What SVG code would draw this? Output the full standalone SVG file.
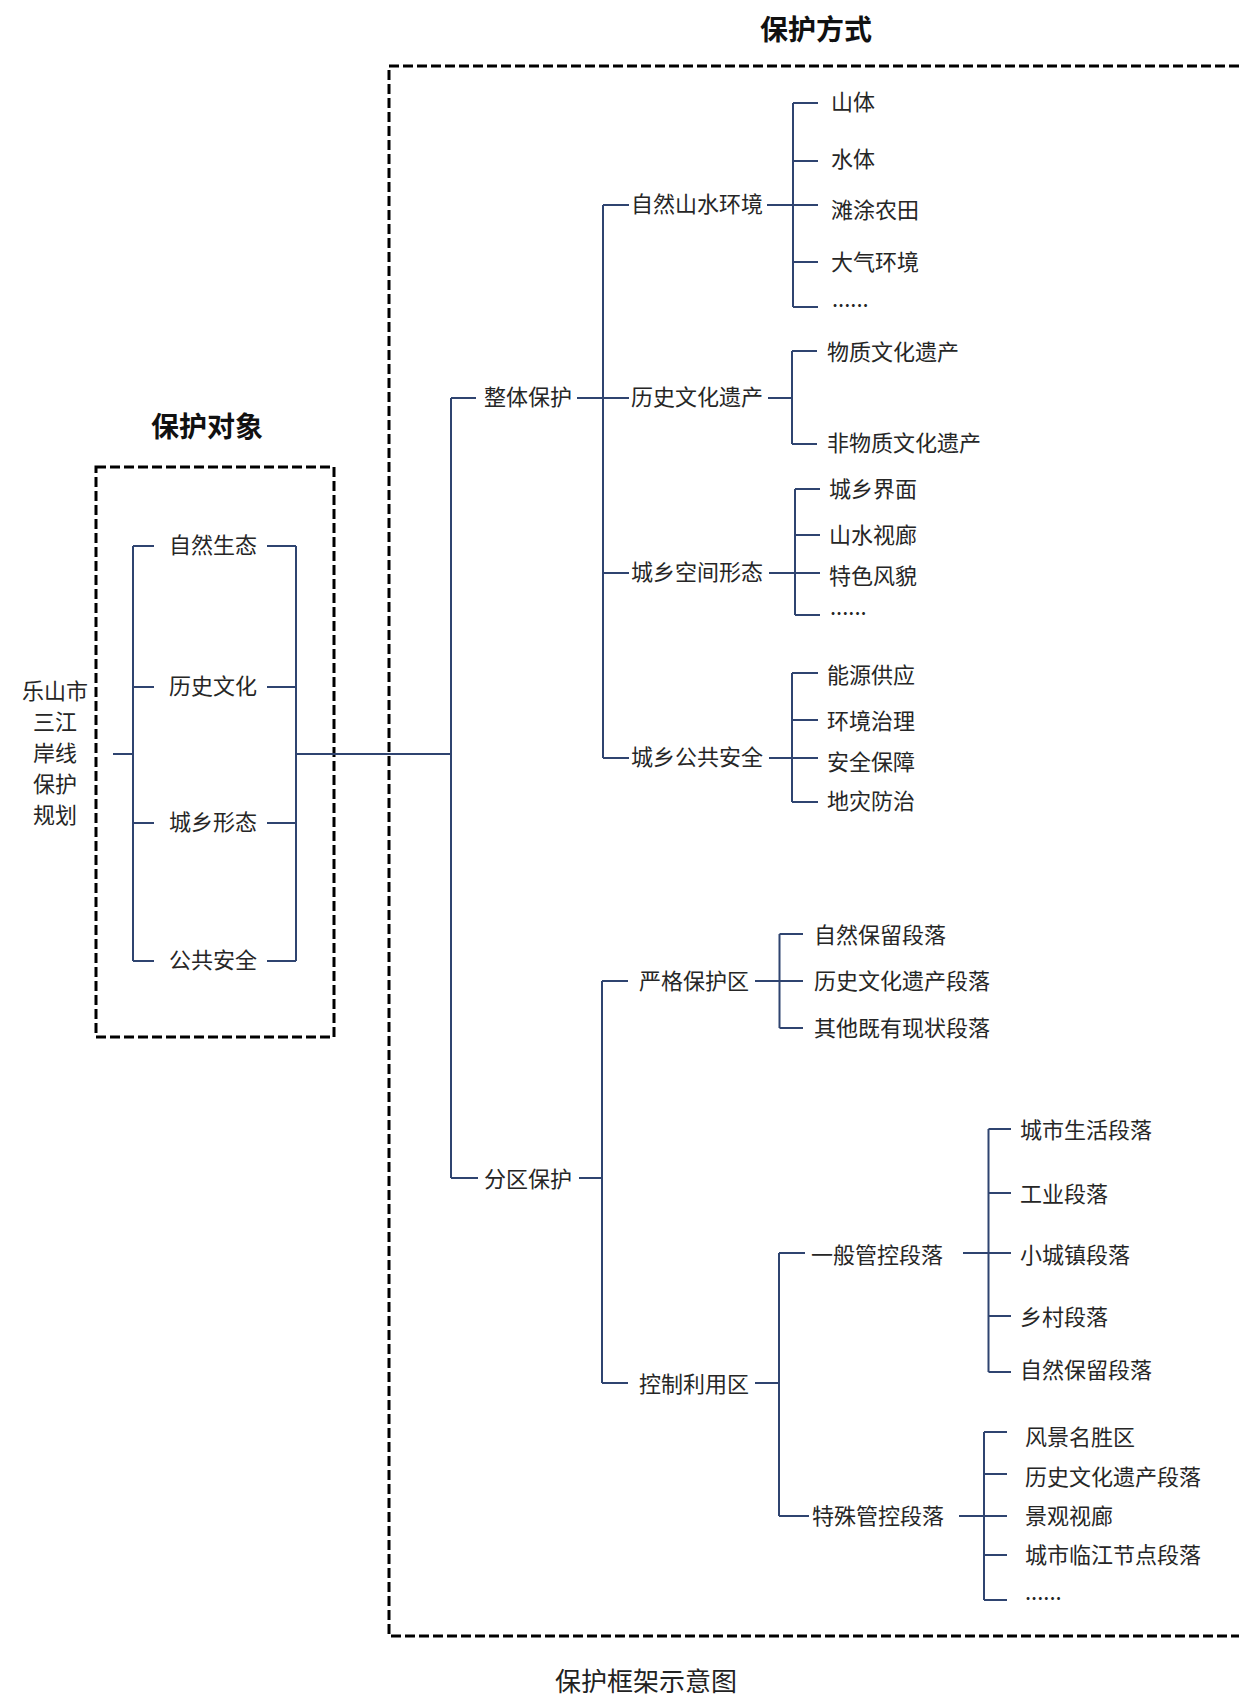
<svg xmlns="http://www.w3.org/2000/svg" width="1239" height="1697" viewBox="0 0 1239 1697">
<style>
.bg{fill:#ffffff}
.ln{stroke:#2F4470;stroke-width:2;fill:none;stroke-linecap:butt}
.box{stroke:#000000;stroke-width:3;fill:none;stroke-dasharray:10 4}
.t{font-family:"Noto Sans CJK SC","Microsoft YaHei","Noto Sans",sans-serif;font-size:22px;fill:#262626;dominant-baseline:central;transform:translateY(-3px)}
.m{text-anchor:middle}
.h{font-family:"Noto Sans CJK SC","Microsoft YaHei","Noto Sans",sans-serif;font-size:28px;font-weight:bold;fill:#111111;text-anchor:middle;dominant-baseline:central;transform:translateY(-2px)}
.cap{font-family:"Noto Sans CJK SC","Microsoft YaHei","Noto Sans",sans-serif;font-size:26px;fill:#222222;text-anchor:middle}
.d{font-family:"Noto Sans CJK SC","Microsoft YaHei","Noto Sans",sans-serif;font-size:22px;fill:#262626;transform:translateY(-2px)}
</style>
<rect class="bg" x="0" y="0" width="1239" height="1697"/>

<g id="frames">
  <rect class="box" x="96" y="467" width="238" height="570"/>
  <rect class="box" x="389" y="66" width="880" height="1570"/>
  <text class="h" x="207" y="427">保护对象</text>
  <text class="h" x="816" y="30">保护方式</text>
</g>

<g id="connectors">
  <path class="ln" d="M113,754 H133 M133,546 V961 M133,546 H154 M133,687 H154 M133,823 H154 M133,961 H154"/>
  <path class="ln" d="M267,546 H296 M267,687 H296 M267,823 H296 M267,961 H296 M296,546 V961 M296,754 H451"/>
  <path class="ln" d="M451,398 V1178 M451,398 H476 M451,1178 H478"/>
  <path class="ln" d="M577,398 H629 M603,205 V758 M603,205 H629 M603,573 H629 M603,758 H629"/>
  <path class="ln" d="M767,205 H818 M793,103 V307 M793,103 H818 M793,161 H818 M793,262 H818 M793,307 H818"/>
  <path class="ln" d="M768,398 H792 M792,351 V444 M792,351 H817 M792,444 H817"/>
  <path class="ln" d="M769,573 H820 M795,489 V615 M795,489 H820 M795,535 H820 M795,615 H820"/>
  <path class="ln" d="M769,758 H818 M792,673 V802 M792,673 H818 M792,720 H818 M792,802 H818"/>
  <path class="ln" d="M579,1178 H602 M602,981 V1383 M602,981 H628 M602,1383 H628"/>
  <path class="ln" d="M755,981 H803 M779.5,934 V1028 M779.5,934 H803 M779.5,1028 H803"/>
  <path class="ln" d="M755,1383 H779 M779,1253 V1516 M779,1253 H805 M779,1516 H809"/>
  <path class="ln" d="M963,1253 H1011 M988.5,1129 V1372 M988.5,1129 H1011 M988.5,1193 H1011 M988.5,1316 H1011 M988.5,1372 H1011"/>
  <path class="ln" d="M959,1516 H1007 M984,1432 V1600 M984,1432 H1007 M984,1474 H1007 M984,1555 H1007 M984,1600 H1007"/>
</g>

<g id="root">
  <text class="t m" x="55" y="692">乐山市</text>
  <text class="t m" x="55" y="723">三江</text>
  <text class="t m" x="55" y="754">岸线</text>
  <text class="t m" x="55" y="785">保护</text>
  <text class="t m" x="55" y="816">规划</text>
</g>

<g id="obj-nature"><text class="t m" x="213" y="546">自然生态</text></g>
<g id="obj-history"><text class="t m" x="213" y="687">历史文化</text></g>
<g id="obj-form"><text class="t m" x="213" y="823">城乡形态</text></g>
<g id="obj-safety"><text class="t m" x="213" y="961">公共安全</text></g>

<g id="m-overall"><text class="t" x="484" y="398">整体保护</text></g>
<g id="m-zone"><text class="t" x="484" y="1180">分区保护</text></g>

<g id="o-nature"><text class="t" x="631" y="205">自然山水环境</text></g>
<g id="o-heritage"><text class="t" x="631" y="398">历史文化遗产</text></g>
<g id="o-space"><text class="t" x="631" y="573">城乡空间形态</text></g>
<g id="o-safety"><text class="t" x="631" y="758">城乡公共安全</text></g>

<g id="n-1"><text class="t" x="831" y="103">山体</text></g>
<g id="n-2"><text class="t" x="831" y="160">水体</text></g>
<g id="n-3"><text class="t" x="831" y="211">滩涂农田</text></g>
<g id="n-4"><text class="t" x="831" y="263">大气环境</text></g>
<g id="n-5"><text class="d" x="832" y="309">......</text></g>

<g id="h-1"><text class="t" x="827" y="353">物质文化遗产</text></g>
<g id="h-2"><text class="t" x="827" y="444">非物质文化遗产</text></g>

<g id="s-1"><text class="t" x="829" y="490">城乡界面</text></g>
<g id="s-2"><text class="t" x="829" y="536">山水视廊</text></g>
<g id="s-3"><text class="t" x="829" y="577">特色风貌</text></g>
<g id="s-4"><text class="d" x="830" y="617">......</text></g>

<g id="p-1"><text class="t" x="827" y="676">能源供应</text></g>
<g id="p-2"><text class="t" x="827" y="722">环境治理</text></g>
<g id="p-3"><text class="t" x="827" y="763">安全保障</text></g>
<g id="p-4"><text class="t" x="827" y="802">地灾防治</text></g>

<g id="z-strict"><text class="t" x="639" y="982">严格保护区</text></g>
<g id="z-control"><text class="t" x="639" y="1385">控制利用区</text></g>

<g id="st-1"><text class="t" x="814" y="936">自然保留段落</text></g>
<g id="st-2"><text class="t" x="814" y="982">历史文化遗产段落</text></g>
<g id="st-3"><text class="t" x="814" y="1029">其他既有现状段落</text></g>

<g id="c-general"><text class="t" x="811" y="1256">一般管控段落</text></g>
<g id="c-special"><text class="t" x="812" y="1517">特殊管控段落</text></g>

<g id="g-1"><text class="t" x="1020" y="1131">城市生活段落</text></g>
<g id="g-2"><text class="t" x="1020" y="1195">工业段落</text></g>
<g id="g-3"><text class="t" x="1020" y="1256">小城镇段落</text></g>
<g id="g-4"><text class="t" x="1020" y="1318">乡村段落</text></g>
<g id="g-5"><text class="t" x="1020" y="1371">自然保留段落</text></g>

<g id="sp-1"><text class="t" x="1025" y="1438">风景名胜区</text></g>
<g id="sp-2"><text class="t" x="1025" y="1478">历史文化遗产段落</text></g>
<g id="sp-3"><text class="t" x="1025" y="1517">景观视廊</text></g>
<g id="sp-4"><text class="t" x="1025" y="1556">城市临江节点段落</text></g>
<g id="sp-5"><text class="d" x="1025" y="1602">......</text></g>

<g id="caption"><text class="cap" x="646" y="1691">保护框架示意图</text></g>
</svg>
